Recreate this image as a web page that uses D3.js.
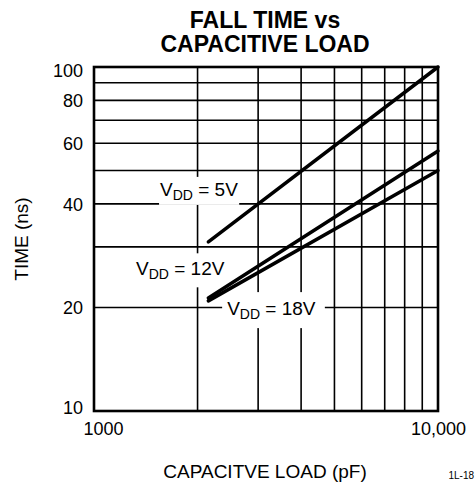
<!DOCTYPE html>
<html>
<head>
<meta charset="utf-8">
<script src="https://cdn.jsdelivr.net/npm/d3@7"></script>
<style>
  body { margin: 0; background: #fff; }
  text { font-family: "Liberation Sans", Arial, sans-serif; fill: #000; }
</style>
</head>
<body>
<div id="chart"></div>
<script>
// chart data
const xTicks = [1000, 10000];
const xTickLabels = ["1000", "10,000"];
const xGrid = [2000, 3000, 4000, 5000, 6000, 7000, 8000, 9000];
const yTicks = [10, 20, 40, 60, 80, 100];
const yGrid = [20, 30, 40, 50, 60, 70, 80, 90];

const seriesNames = ["5V", "12V", "18V"];
const loadPF = [2150, 10000];
const time5V = [31, 100];
const time12V = [21.3, 57];
const time18V = [20.9, 50];

// label anchors in data units (capacitance, time)
const labelC = [1556, 1325, 2438];
const labelT = [42.2, 24.8, 19.0];

const W = 475, H = 485;
const margin = { top: 67, right: 37, bottom: 74, left: 94 };
const width = W - margin.left - margin.right;
const height = H - margin.top - margin.bottom;

const svg = d3.select("#chart").append("svg")
  .attr("width", W)
  .attr("height", H);

const g = svg.append("g")
  .attr("transform", "translate(" + margin.left + "," + margin.top + ")");

const x = d3.scaleLog().domain([1000, 10000]).range([0, width]);
const y = d3.scaleLog().domain([10, 100]).range([height, 0]);

// title
svg.append("text")
  .attr("x", 265).attr("y", 28)
  .attr("text-anchor", "middle")
  .style("font-size", "23px").style("font-weight", "bold")
  .text("FALL TIME vs");
svg.append("text")
  .attr("x", 265).attr("y", 52)
  .attr("text-anchor", "middle")
  .style("font-size", "23px").style("font-weight", "bold")
  .text("CAPACITIVE LOAD");

// grid
g.selectAll(".hgrid").data(yGrid).enter().append("line")
  .attr("class", "hgrid")
  .attr("x1", 0).attr("x2", width)
  .attr("y1", d => y(d)).attr("y2", d => y(d))
  .style("stroke", "#000").style("stroke-width", 1.6);

g.selectAll(".vgrid").data(xGrid).enter().append("line")
  .attr("class", "vgrid")
  .attr("x1", d => x(d)).attr("x2", d => x(d))
  .attr("y1", 0).attr("y2", height)
  .style("stroke", "#000").style("stroke-width", 1.6);

// axes (labels only)
const yAxis = d3.axisLeft(y).tickValues(yTicks).tickSize(0).tickPadding(11)
  .tickFormat(d3.format("d"));
const yG = g.append("g").call(yAxis);
yG.select(".domain").remove();
yG.selectAll("text")
  .style("font-size", "18px")
  .style("font-family", "Liberation Sans, Arial, sans-serif")
  .attr("dy", d => d === 10 ? "0.12em" : (d === 100 ? "0.5em" : "0.35em"));

const xAxis = d3.axisBottom(x).tickValues(xTicks).tickSize(0).tickPadding(11)
  .tickFormat((d, i) => xTickLabels[i]);
const xG = g.append("g").attr("transform", "translate(0," + height + ")").call(xAxis);
xG.select(".domain").remove();
xG.selectAll("text")
  .style("font-size", "18px")
  .style("font-family", "Liberation Sans, Arial, sans-serif")
  .attr("dx", d => d === 1000 ? 9 : 0);

// curve labels with knockout boxes
const labels = g.selectAll(".vlabel").data(seriesNames).enter().append("g")
  .attr("class", "vlabel");

const labelText = labels.append("text")
  .attr("x", (d, i) => x(labelC[i]))
  .attr("y", (d, i) => y(labelT[i]))
  .style("font-size", "19px");
labelText.append("tspan").text("V");
labelText.append("tspan").attr("dy", 4).style("font-size", "14px").text("DD");
labelText.append("tspan").attr("dy", -4).text(d => " = " + d);

const pads = [1, 4, 5];
labels.each(function (d, i) {
  const t = d3.select(this).select("text");
  const b = t.node().getBBox();
  d3.select(this).insert("rect", "text")
    .attr("x", b.x - pads[i]).attr("y", b.y - pads[i] - 1)
    .attr("width", b.width + 2 * pads[i] + (i === 2 ? 4 : 0))
    .attr("height", b.height + 2 * pads[i] + 2)
    .style("fill", "#fff");
});

// data lines
const allSeries = [time5V, time12V, time18V];
const line = d3.line()
  .x((d, i) => x(loadPF[i]))
  .y(d => y(d));

g.selectAll(".curve").data(allSeries).enter().append("path")
  .attr("class", "curve")
  .attr("d", d => line(d))
  .style("fill", "none")
  .style("stroke", "#000")
  .style("stroke-width", 3.5)
  .style("stroke-linecap", "round");

// frame
g.append("rect")
  .attr("x", 0).attr("y", 0)
  .attr("width", width).attr("height", height)
  .style("fill", "none").style("stroke", "#000").style("stroke-width", 2.6);

// axis titles
svg.append("text")
  .attr("transform", "translate(28,239) rotate(-90)")
  .attr("text-anchor", "middle")
  .style("font-size", "19px")
  .text("TIME (ns)");

svg.append("text")
  .attr("x", 265).attr("y", 478)
  .attr("text-anchor", "middle")
  .style("font-size", "19px")
  .text("CAPACITVE LOAD (pF)");

svg.append("text")
  .attr("x", 474).attr("y", 479)
  .attr("text-anchor", "end")
  .style("font-size", "10px")
  .text("1L-18");
</script>
</body>
</html>
